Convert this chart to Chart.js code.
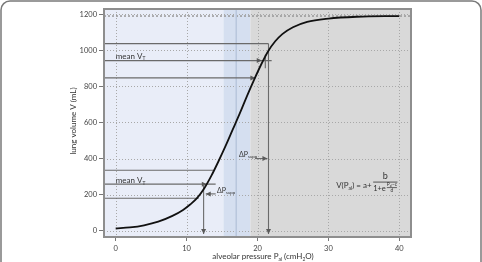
<!DOCTYPE html>
<html>
<head>
<meta charset="utf-8">
<script src="https://cdn.jsdelivr.net/npm/chart.js@4.4.1/dist/chart.umd.min.js"></script>
<style>
  html, body { margin: 0; padding: 0; background: #fff; }
  canvas { display: block; }
</style>
</head>
<body>
<canvas id="pvChart" width="482" height="262"></canvas>
<script>
// pressure-volume curve
var pressure = [0, 2, 4, 6, 8, 9.5, 10.5, 11.5, 12.5, 13.5, 14.5, 15.5, 16.5, 17.5, 18.5, 19.5, 20.5, 21.5, 22.5, 23.5, 25, 27, 30, 34, 40];
var volume   = [12, 18, 30, 50, 82, 115, 145, 182, 235, 305, 385, 470, 560, 650, 745, 835, 920, 995, 1050, 1090, 1128, 1158, 1176, 1186, 1190];

var xTicks = [0, 10, 20, 30, 40];
var yTicks = [0, 200, 400, 600, 800, 1000, 1200];

// shaded pressure zones
var zoneBlueEnd = 15.2;
var zoneMidLine = 17;
var zoneGrayStart = 19;
var plateau = 1190;

// tidal breaths: [volume, pressure where the line stops]
var lowBreath  = [[335, 13.8], [258, 14.1], [180, 11.7]];
var highBreath = [[1037, 21.55], [943, 22.0], [847, 19.7]];
var lowMeanArrow = 12.85, highMeanArrow = 20.6, highLowArrow = 19.7;
var lowDrop = 12.4, highDrop = 21.55;
var lowSupp = [14.1, 12.7, 204];   // from, to, volume
var highSupp = [19.7, 21.4, 400];

var FONT = 'Lato, "Open Sans", sans-serif';

function textWidth(ctx, parts, size) {
  var w = 0;
  for (var i = 0; i < parts.length; i++) {
    ctx.font = (parts[i][1] ? size * 0.62 : size) + 'px ' + FONT;
    w += ctx.measureText(parts[i][0]).width;
  }
  return w;
}

function richText(ctx, parts, x, y, size, align) {
  // parts: [text, isSub]
  var w = textWidth(ctx, parts, size);
  var cx = align === 'center' ? x - w / 2 : (align === 'right' ? x - w : x);
  ctx.textAlign = 'left';
  ctx.textBaseline = 'middle';
  for (var i = 0; i < parts.length; i++) {
    ctx.font = (parts[i][1] ? size * 0.62 : size) + 'px ' + FONT;
    ctx.fillText(parts[i][0], cx, parts[i][1] ? y + size * 0.3 : y);
    cx += ctx.measureText(parts[i][0]).width;
  }
  return w;
}

function arrowHead(ctx, x, y, dir) {
  ctx.beginPath();
  if (dir === 'right') { ctx.moveTo(x, y); ctx.lineTo(x - 5, y - 2.5); ctx.lineTo(x - 5, y + 2.5); }
  if (dir === 'left')  { ctx.moveTo(x, y); ctx.lineTo(x + 5, y - 2.5); ctx.lineTo(x + 5, y + 2.5); }
  if (dir === 'down')  { ctx.moveTo(x, y); ctx.lineTo(x - 2.5, y - 5); ctx.lineTo(x + 2.5, y - 5); }
  ctx.closePath();
  ctx.fill();
}

var pvPlugin = {
  id: 'pvDecor',
  beforeDraw: function(chart) {
    var ctx = chart.ctx, a = chart.chartArea;
    var xs = chart.scales.x, ys = chart.scales.y;
    ctx.save();
    // outer card border, open at the bottom
    ctx.strokeStyle = '#7a7a7a';
    ctx.lineWidth = 1.5;
    ctx.beginPath();
    ctx.moveTo(1, 262);
    ctx.lineTo(1, 10);
    ctx.arcTo(1, 1, 10, 1, 9);
    ctx.lineTo(472, 1);
    ctx.arcTo(481, 1, 481, 10, 9);
    ctx.lineTo(481, 262);
    ctx.stroke();
    // zones
    var xb = xs.getPixelForValue(zoneBlueEnd), xg = xs.getPixelForValue(zoneGrayStart);
    ctx.fillStyle = '#e9edf8';
    ctx.fillRect(a.left, a.top, xb - a.left, a.bottom - a.top);
    ctx.fillStyle = '#d5dff0';
    ctx.fillRect(xb, a.top, xg - xb, a.bottom - a.top);
    ctx.fillStyle = '#d9d9d9';
    ctx.fillRect(xg, a.top, a.right - xg, a.bottom - a.top);
    // grid
    ctx.strokeStyle = '#a8a8a8';
    ctx.lineWidth = 1;
    ctx.setLineDash([1, 2]);
    xTicks.forEach(function(v) {
      var px = Math.round(xs.getPixelForValue(v)) + 0.5;
      ctx.beginPath(); ctx.moveTo(px, a.top); ctx.lineTo(px, a.bottom); ctx.stroke();
    });
    yTicks.forEach(function(v) {
      var py = Math.round(ys.getPixelForValue(v)) + 0.5;
      ctx.beginPath(); ctx.moveTo(a.left, py); ctx.lineTo(a.right, py); ctx.stroke();
    });
    // plateau line
    ctx.strokeStyle = '#999';
    ctx.lineWidth = 1.5;
    ctx.setLineDash([2, 2]);
    var pp = ys.getPixelForValue(plateau);
    ctx.beginPath(); ctx.moveTo(a.left, pp); ctx.lineTo(a.right, pp); ctx.stroke();
    ctx.setLineDash([]);
    // middle marker line
    var xm = xs.getPixelForValue(zoneMidLine);
    ctx.strokeStyle = '#b9c6dd';
    ctx.lineWidth = 1.5;
    ctx.beginPath(); ctx.moveTo(xm, a.top); ctx.lineTo(xm, a.bottom); ctx.stroke();
    ctx.restore();
  },
  beforeDatasetsDraw: function(chart) {
    var ctx = chart.ctx, a = chart.chartArea;
    var xs = chart.scales.x, ys = chart.scales.y;
    var X = function(v) { return xs.getPixelForValue(v); };
    var Y = function(v) { return ys.getPixelForValue(v); };
    ctx.save();
    ctx.strokeStyle = '#6a6a6a';
    ctx.fillStyle = '#5a5a5a';
    ctx.lineWidth = 1.1;
    lowBreath.concat(highBreath).forEach(function(b) {
      ctx.beginPath(); ctx.moveTo(a.left, Y(b[0])); ctx.lineTo(X(b[1]), Y(b[0])); ctx.stroke();
    });
    // arrows onto the curve
    arrowHead(ctx, X(lowMeanArrow), Y(lowBreath[1][0]), 'right');
    arrowHead(ctx, X(highMeanArrow), Y(highBreath[1][0]), 'right');
    arrowHead(ctx, X(highLowArrow), Y(highBreath[2][0]), 'right');
    // drop lines
    var yb = a.bottom - 3;
    ctx.beginPath(); ctx.moveTo(X(lowDrop), Y(lowBreath[1][0])); ctx.lineTo(X(lowDrop), yb); ctx.stroke();
    arrowHead(ctx, X(lowDrop), yb, 'down');
    ctx.beginPath(); ctx.moveTo(X(highDrop), Y(highBreath[0][0])); ctx.lineTo(X(highDrop), yb); ctx.stroke();
    arrowHead(ctx, X(highDrop), yb, 'down');
    // small tick near upper mean
    ctx.beginPath(); ctx.moveTo(X(21.1), Y(900)); ctx.lineTo(X(21.1), Y(975)); ctx.stroke();
    // delta P supp arrows
    ctx.beginPath(); ctx.moveTo(X(lowSupp[0]), Y(lowSupp[2])); ctx.lineTo(X(lowSupp[1]), Y(lowSupp[2])); ctx.stroke();
    arrowHead(ctx, X(lowSupp[1]), Y(lowSupp[2]), 'left');
    ctx.beginPath(); ctx.moveTo(X(highSupp[0]), Y(highSupp[2])); ctx.lineTo(X(highSupp[1]), Y(highSupp[2])); ctx.stroke();
    arrowHead(ctx, X(highSupp[1]), Y(highSupp[2]), 'right');
    // labels
    ctx.fillStyle = '#333';
    richText(ctx, [['mean V', false], ['T', true]], X(0), Y(967), 8, 'left');
    richText(ctx, [['mean V', false], ['T', true]], X(0), Y(278), 8, 'left');
    richText(ctx, [['\u0394P', false], ['supp', true]], X(14.3), Y(222), 7, 'left');
    richText(ctx, [['\u0394P', false], ['supp', true]], X(17.4), Y(420), 7, 'left');
    // formula
    var fx = X(31.1), fy = Y(250);
    var lead = richText(ctx, [['V(P', false], ['al', true], [') = a+', false]], fx, fy, 8, 'left');
    var f0 = fx + lead + 1.5;
    var baseW = richText(ctx, [['1+e', false]], f0, fy + 2.5, 7.5, 'left');
    var expW = textWidth(ctx, [['P', false], ['al', true], ['\u2212c', false]], 4.8);
    var ex = f0 + baseW + 1;
    richText(ctx, [['P', false], ['al', true], ['\u2212c', false]], ex, fy - 1, 4.8, 'left');
    ctx.strokeStyle = '#333';
    ctx.lineWidth = 0.7;
    ctx.beginPath(); ctx.moveTo(ex, fy + 2); ctx.lineTo(ex + expW, fy + 2); ctx.stroke();
    richText(ctx, [['d', false]], ex + expW / 2, fy + 5, 4.8, 'center');
    var fracEnd = ex + expW + 0.5;
    ctx.lineWidth = 0.8;
    ctx.beginPath(); ctx.moveTo(f0, fy - 3.5); ctx.lineTo(fracEnd, fy - 3.5); ctx.stroke();
    richText(ctx, [['b', false]], (f0 + fracEnd) / 2, fy - 9.5, 9, 'center');
    ctx.restore();
  },
  afterDraw: function(chart) {
    var ctx = chart.ctx, a = chart.chartArea;
    ctx.save();
    // plot frame
    ctx.strokeStyle = '#8e8e8e';
    ctx.lineWidth = 2;
    ctx.strokeRect(a.left, a.top, a.right - a.left, a.bottom - a.top);
    // axis titles
    ctx.fillStyle = '#333';
    richText(ctx, [['alveolar pressure P', false], ['al', true], [' (cmH', false], ['2', true], ['O)', false]],
      263, 256.5, 8, 'center');
    ctx.translate(73.5, 121);
    ctx.rotate(-Math.PI / 2);
    richText(ctx, [['lung volume V (mL)', false]], 0, 0, 8, 'center');
    ctx.restore();
  }
};

var points = pressure.map(function(p, i) { return { x: p, y: volume[i] }; });
var plainLabel = function(v) { return String(v); };

var ctx = document.getElementById('pvChart').getContext('2d');
var chart = new Chart(ctx, {
  type: 'line',
  data: {
    datasets: [{
      data: points,
      borderColor: '#111',
      borderWidth: 1.8,
      pointRadius: 0,
      fill: false,
      cubicInterpolationMode: 'monotone'
    }]
  },
  options: {
    responsive: false,
    animation: false,
    layout: { padding: { left: 64, right: 71, top: 9, bottom: 0 } },
    plugins: { legend: { display: false }, tooltip: { enabled: false } },
    scales: {
      x: {
        type: 'linear',
        min: -1.65,
        max: 41.65,
        afterBuildTicks: function(s) { s.ticks = xTicks.map(function(v) { return { value: v }; }); },
        afterFit: function(s) { s.height = 25; },
        ticks: { font: { family: FONT, size: 7.5 }, color: '#444', padding: 3, maxRotation: 0, callback: plainLabel },
        grid: { drawOnChartArea: false, drawTicks: true, tickLength: 4, color: '#777' },
        border: { display: false }
      },
      y: {
        type: 'linear',
        min: -35,
        max: 1229,
        afterBuildTicks: function(s) { s.ticks = yTicks.map(function(v) { return { value: v }; }); },
        afterFit: function(s) { s.width = 40; },
        ticks: { font: { family: FONT, size: 7.5 }, color: '#444', padding: 2, callback: plainLabel },
        grid: { drawOnChartArea: false, drawTicks: true, tickLength: 5, color: '#777' },
        border: { display: false }
      }
    }
  },
  plugins: [pvPlugin]
});
</script>
</body>
</html>
